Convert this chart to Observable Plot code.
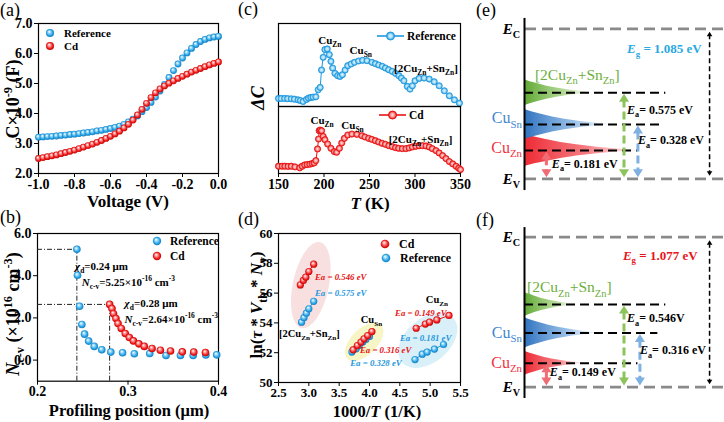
<!DOCTYPE html>
<html><head><meta charset="utf-8">
<script src="https://cdn.jsdelivr.net/npm/d3@7"></script>
<script src="https://cdn.jsdelivr.net/npm/@observablehq/plot@0.6"></script>
<style>
body{margin:0;background:#fff;}
#fig{position:relative;width:724px;height:422px;overflow:hidden;background:#fff;}
.plab{position:absolute;font-family:"Liberation Serif",serif;font-size:18px;line-height:18px;color:#000;}
</style></head>
<body>
<svg width="0" height="0" style="position:absolute">
<defs>
 <radialGradient id="sphBlue" cx="0.5" cy="0.5" r="0.55" fx="0.38" fy="0.32">
  <stop offset="0" stop-color="#ffffff"/><stop offset="0.3" stop-color="#9cd9f8"/><stop offset="0.7" stop-color="#22a0e4"/><stop offset="1" stop-color="#1372b3"/>
 </radialGradient>
 <radialGradient id="sphRed" cx="0.5" cy="0.5" r="0.55" fx="0.38" fy="0.32">
  <stop offset="0" stop-color="#ffffff"/><stop offset="0.3" stop-color="#ff9c9c"/><stop offset="0.7" stop-color="#f01818"/><stop offset="1" stop-color="#b00000"/>
 </radialGradient>
 <radialGradient id="ringBlue" cx="0.5" cy="0.5" r="0.5">
  <stop offset="0" stop-color="#e4f5fd"/><stop offset="0.5" stop-color="#a6dcf6"/><stop offset="1" stop-color="#1f98de"/>
 </radialGradient>
 <radialGradient id="ringRed" cx="0.5" cy="0.5" r="0.5">
  <stop offset="0" stop-color="#ffe2e2"/><stop offset="0.5" stop-color="#ff9a9a"/><stop offset="1" stop-color="#e61414"/>
 </radialGradient>
 <linearGradient id="gRed" x1="0" x2="1" y1="0" y2="0">
  <stop offset="0" stop-color="#ee2a34"/><stop offset="0.55" stop-color="#f3646b" stop-opacity="0.85"/><stop offset="1" stop-color="#fbd3d5" stop-opacity="0.5"/>
 </linearGradient>
 <linearGradient id="gBlue" x1="0" x2="1" y1="0" y2="0">
  <stop offset="0" stop-color="#2f72bf"/><stop offset="0.55" stop-color="#82b2e2" stop-opacity="0.85"/><stop offset="1" stop-color="#e6f0fa" stop-opacity="0.5"/>
 </linearGradient>
 <linearGradient id="gGreen" x1="0" x2="1" y1="0" y2="0">
  <stop offset="0" stop-color="#5fa833"/><stop offset="0.55" stop-color="#a3d17f" stop-opacity="0.85"/><stop offset="1" stop-color="#eef7e6" stop-opacity="0.5"/>
 </linearGradient>
</defs></svg>
<div id="fig"></div>
<script>
// ---------------- DATA ----------------
// (a) C-V
const aVoltage = [-1,-0.975,-0.95,-0.925,-0.9,-0.875,-0.85,-0.825,-0.8,-0.775,-0.75,-0.725,-0.7,-0.675,-0.65,-0.625,-0.6,-0.575,-0.55,-0.525,-0.5,-0.475,-0.45,-0.425,-0.4,-0.375,-0.35,-0.325,-0.3,-0.275,-0.25,-0.225,-0.2,-0.175,-0.15,-0.125,-0.1,-0.075,-0.05,-0.025,0];
const aRef = [3.21,3.22,3.23,3.24,3.25,3.27,3.28,3.30,3.31,3.33,3.35,3.37,3.39,3.42,3.44,3.47,3.50,3.54,3.58,3.64,3.72,3.81,3.92,4.06,4.20,4.37,4.55,4.75,4.97,5.20,5.43,5.65,5.85,6.02,6.17,6.30,6.40,6.47,6.52,6.55,6.57];
const aCd  = [2.50,2.53,2.56,2.59,2.62,2.66,2.70,2.74,2.78,2.83,2.88,2.93,2.98,3.04,3.10,3.17,3.24,3.32,3.41,3.52,3.64,3.78,3.95,4.14,4.34,4.53,4.69,4.82,4.92,5.01,5.09,5.17,5.24,5.31,5.38,5.44,5.50,5.56,5.62,5.67,5.72];
const aXTicks = [-1,-0.8,-0.6,-0.4,-0.2,0];
const aYTicks = [2,3,4,5,6,7];

// (b) N_c-v profile
const bRefX = [0.2435,0.2442,0.2465,0.249,0.252,0.2565,0.2627,0.271,0.281,0.294,0.307,0.324,0.342,0.358,0.372,0.386,0.398];
const bRefY = [5.25,4.02,2.55,1.69,1.23,0.90,0.65,0.49,0.38,0.35,0.30,0.31,0.22,0.22,0.22,0.24,0.25];
const bCdX  = [0.2797,0.2823,0.284,0.2867,0.289,0.2926,0.297,0.3015,0.306,0.312,0.318,0.3266,0.3358,0.347,0.36,0.3727,0.3856];
const bCdY  = [2.64,2.44,2.20,1.97,1.73,1.50,1.26,1.07,0.91,0.77,0.65,0.55,0.47,0.43,0.39,0.38,0.36];
const bXTicks = [0.2,0.3,0.4];
const bYTicks = [0,2,4,6];

// (c) DLTS (arbitrary units)
const cRefT = [150,153,156.7,160,164,167.5,171.4,174,177,180.7,183,185.5,188,191,193.6,195.8,197.3,199.1,201,203.6,205.8,207.6,209.5,212,215,217.6,220.2,223.2,226.1,229.8,233.5,238,242.4,247.2,252.7,256.5,260.1,264,267.5,271,274.9,278.5,282.3,285,287.8,291.5,294.5,297.1,300,304.5,310,315.6,321.1,326.6,332.2,337.7,343.3,348.8];
const cRefDC = [2.4,2.4,2.4,2.35,2.3,2.2,2.0,1.8,1.5,2.1,2.5,2.7,2.8,2.9,5.0,5.7,10.9,14.7,17.0,17.2,15.5,13.5,11.5,9.9,9.2,9.0,9.5,10.9,12.2,12.7,13.2,13.6,13.8,13.7,13.2,12.8,12.4,12.0,11.5,11.0,10.5,9.9,9.2,8.5,7.7,6.0,5.2,6.2,7.7,8.4,8.5,8.2,7.4,6.2,4.7,3.2,2.0,1.0];
const cCdT = [150,154,157,160.5,164,168,173.3,176,178.8,181.5,184.4,187,189.2,191,192.9,194,194.7,195.8,197.3,199.1,201,204,207.6,211.3,213.9,216.9,219.5,222.4,226.1,230.6,236.1,241.6,245,249,252.5,256.4,260,263.8,267.5,271.2,275,278.6,282,286,290,293.5,297,300.8,304.5,308.2,312,315.6,319,323,326.5,330.3,334,337.7,341.5,345.1,348,350];
const cCdDC = [2.2,2.2,2.2,2.15,2.2,2.0,1.7,2.2,2.6,2.7,2.8,3.0,3.2,3.9,7.4,10.4,12.9,13.1,12.9,11.2,10.2,8.9,7.6,6.6,6.4,7.6,9.2,10.6,11.6,11.9,11.8,11.4,11.0,10.6,10.3,9.9,9.5,9.1,8.8,8.4,8.1,7.8,7.6,7.5,7.5,7.7,8.0,8.2,8.35,8.4,8.3,8.0,7.5,6.9,6.2,5.4,4.5,3.6,2.9,2.2,1.6,1.2];
const cXTicks = [150,200,250,300,350];

// (d) Arrhenius
const dGroups = ["2CuZn+SnZn","2CuZn+SnZn","2CuZn+SnZn","2CuZn+SnZn","2CuZn+SnZn","CuSn","CuSn","CuSn","CuSn","CuSn","CuSn","CuZn","CuZn","CuZn","CuZn","CuZn"];
const dCdX  = [2.86,2.91,2.95,3.00,3.08, 3.73,3.80,3.86,3.91,3.97,4.04, 4.77,4.92,4.99,5.11,5.31];
const dCdY  = [56.55,56.85,57.07,57.45,57.94, 52.19,52.48,52.71,52.93,53.15,53.42, 53.64,53.92,54.05,54.20,54.50];
const dRefX = [2.88,2.92,2.96,3.00,3.08, 3.71,3.78,3.83,3.89,3.94,4.00, 4.75,4.87,4.95,5.07,5.22];
const dRefY = [54.05,54.35,54.65,54.95,55.45, 52.04,52.26,52.48,52.71,52.89,53.09, 51.54,51.90,52.04,52.24,52.55];
const dXTicks = [2.5,3.0,3.5,4.0,4.5,5.0,5.5];
const dYTicks = [50,52,54,56,58,60];
const dEaCd  = [0.546,0.316,0.149];
const dEaRef = [0.575,0.328,0.181];
const dClusterX = [3.04,3.92,4.97];
const dClusterY = [56.5,52.7,52.8];

// (e),(f) band diagrams: CuZn, CuSn, [2CuZn+SnZn]
const defectNames = ["Cu_{Zn}","Cu_{Sn}","[2Cu_{Zn}+Sn_{Zn}]"];
const eEa = [0.181,0.328,0.575]; const eEg = 1.085;
const fEa = [0.149,0.316,0.546]; const fEg = 1.077;
const eLevel = [0.205,0.393,0.623];   // drawn (schematic) level heights above E_V
const fLevel = [0.172,0.390,0.594];
const profOffset = [-1,-0.85,-0.7,-0.5,-0.35,-0.2,-0.1,0,0.1,0.2,0.35,0.5,0.7,0.85,1];
const profWidth  = [0,0.08,0.18,0.32,0.46,0.64,0.8,1,0.8,0.64,0.46,0.32,0.18,0.08,0];

// ---------------- HELPERS ----------------
const NS = "http://www.w3.org/2000/svg";
const FONT = "Liberation Serif";
const STYLE = "font-family:'Liberation Serif',serif;font-size:14px;font-weight:bold;color:#000;background:transparent;overflow:visible;";
const STYLE13 = STYLE.replace("font-size:14px", "font-size:13px");
function el(tag, attrs) { const e = document.createElementNS(NS, tag); for (const k in (attrs||{})) e.setAttribute(k, attrs[k]); return e; }
function parseRich(s) {
  const segs = []; let i = 0, buf = "";
  while (i < s.length) {
    const c = s[i];
    if ((c === "_" || c === "^" || c === "~") && s[i+1] === "{") {
      if (buf) { segs.push({t: buf, k: "n"}); buf = ""; }
      const j = s.indexOf("}", i + 2);
      segs.push({t: s.slice(i + 2, j), k: c});
      i = j + 1;
    } else { buf += c; i++; }
  }
  if (buf) segs.push({t: buf, k: "n"});
  return segs;
}
function addRich(parent, it, scales) {
  const fs = it.size || 12;
  const X = it.px ? it.x : scales.x(it.x);
  const Y = it.px ? it.y : scales.y(it.y);
  const t = el("text", {
    transform: `translate(${X},${Y})` + (it.rotate ? ` rotate(${it.rotate})` : ""),
    y: (0.35 * fs).toFixed(2), "font-family": it.family || FONT, "font-size": fs,
    "font-weight": it.weight || "bold", fill: it.fill || "#000", "text-anchor": it.anchor || "start"
  });
  if (it.italic) t.setAttribute("font-style", "italic");
  let shift = 0;
  for (const seg of parseRich(it.t)) {
    const sp = el("tspan");
    let target = 0;
    if (seg.k === "_") { target = 0.28 * fs; sp.setAttribute("font-size", (0.68 * fs).toFixed(2)); }
    else if (seg.k === "^") { target = -0.42 * fs; sp.setAttribute("font-size", (0.68 * fs).toFixed(2)); }
    if (seg.k === "~") sp.setAttribute("font-style", "italic");
    const dy = target - shift;
    if (dy) sp.setAttribute("dy", dy.toFixed(2));
    shift = target;
    sp.textContent = seg.t;
    t.appendChild(sp);
  }
  parent.appendChild(t);
}
function richText(items) {
  return (index, scales) => { const g = el("g"); for (const it of items) addRich(g, it, scales); return g; };
}
function dotLegend(items, r, gap, size) {
  return (index, scales) => {
    const g = el("g");
    for (const it of items) {
      g.appendChild(el("circle", {cx: it.x, cy: it.y, r, fill: it.fill}));
      addRich(g, {px: true, x: it.x + gap, y: it.y, t: it.label, size}, scales);
    }
    return g;
  };
}
function lineLegend(item) {
  return (index, scales) => {
    const g = el("g");
    g.appendChild(el("line", {x1: item.x, x2: item.x + 27, y1: item.y, y2: item.y, stroke: item.stroke, "stroke-width": 1.6}));
    g.appendChild(el("circle", {cx: item.x + 13.5, cy: item.y, r: 4, fill: item.fill, stroke: item.stroke, "stroke-width": 1}));
    addRich(g, {px: true, x: item.x + 30, y: item.y, t: item.label, size: 11.5}, scales);
    return g;
  };
}
const headUp = {draw(ctx, size) { const r = Math.sqrt(size / Math.PI); ctx.moveTo(0, 0); ctx.lineTo(r, 1.6 * r); ctx.lineTo(-r, 1.6 * r); ctx.closePath(); }};
const headDown = {draw(ctx, size) { const r = Math.sqrt(size / Math.PI); ctx.moveTo(0, 0); ctx.lineTo(r, -1.6 * r); ctx.lineTo(-r, -1.6 * r); ctx.closePath(); }};

const fig = document.getElementById("fig");
function place(node, left, top) { node.style.position = "absolute"; node.style.left = left + "px"; node.style.top = top + "px"; fig.appendChild(node); }
function panelLabel(txt, left, top) { const d = document.createElement("div"); d.className = "plab"; d.textContent = txt; d.style.left = left + "px"; d.style.top = top + "px"; fig.appendChild(d); }

// ---------------- (a) ----------------
const aRows = aVoltage.map((v, i) => ({v, ref: aRef[i], cd: aCd[i]}));
place(Plot.plot({
  width: 230, height: 210, marginLeft: 38, marginRight: 12, marginTop: 23, marginBottom: 37, style: STYLE,
  x: {domain: [-1, 0], ticks: aXTicks, tickFormat: d => d.toFixed(1), tickSize: 4, tickPadding: 2, label: null},
  y: {domain: [2, 7], ticks: aYTicks, tickSize: 4, tickPadding: 2, label: null},
  marks: [
    Plot.frame({stroke: "#000", strokeWidth: 1.2}),
    Plot.dot(aRows, {x: "v", y: "ref", r: 3.4, fill: "url(#sphBlue)"}),
    Plot.dot(aRows, {x: "v", y: "cd", r: 3.4, fill: "url(#sphRed)"}),
    dotLegend([{x: 50, y: 33, fill: "url(#sphBlue)", label: "Reference"}, {x: 50, y: 46, fill: "url(#sphRed)", label: "Cd"}], 4, 14, 11),
    richText([
      {px: true, x: 128, y: 201, t: "Voltage (V)", size: 17, anchor: "middle"},
      {px: true, x: 13, y: 99, t: "C×10^{-9} (F)", size: 18, anchor: "middle", rotate: -90}
    ])
  ]
}), 0, 0);

// ---------------- (b) ----------------
const bRef = bRefX.map((x, i) => ({x, y: bRefY[i]}));
const bCd = bCdX.map((x, i) => ({x, y: bCdY[i]}));
const bMarks = [bRef[0], bCd[0]];
place(Plot.plot({
  width: 230, height: 217, marginLeft: 37, marginRight: 12, marginTop: 28, marginBottom: 41.3, style: STYLE,
  x: {domain: [0.2, 0.4], ticks: bXTicks, tickFormat: d => d.toFixed(1), tickSize: 4, tickPadding: 1, label: null},
  y: {domain: [-1, 6], ticks: bYTicks, tickSize: 4, tickPadding: 2, label: null},
  marks: [
    Plot.frame({stroke: "#000", strokeWidth: 1.2}),
    Plot.ruleX(bMarks, {x: "x", y1: -1, y2: "y", stroke: "#222", strokeWidth: 1, strokeDasharray: "5,2,1,2"}),
    Plot.ruleY(bMarks, {y: "y", x1: 0.2, x2: "x", stroke: "#222", strokeWidth: 1, strokeDasharray: "5,2,1,2"}),
    Plot.dot(bRef, {x: "x", y: "y", r: 3.8, fill: "url(#sphBlue)"}),
    Plot.dot(bCd, {x: "x", y: "y", r: 3.8, fill: "url(#sphRed)"}),
    dotLegend([{x: 157, y: 36, fill: "url(#sphBlue)", label: "Reference"}, {x: 157, y: 51, fill: "url(#sphRed)", label: "Cd"}], 4.2, 13, 11.5),
    richText([
      {x: 0.242, y: 4.45, t: "~{χ}_{d}=0.24 μm", size: 11},
      {x: 0.2494, y: 3.68, t: "~{N}_{c-v}=5.25×10^{-16} cm^{-3}", size: 11},
      {x: 0.2968, y: 2.68, t: "~{χ}_{d}=0.28 μm", size: 11},
      {x: 0.2968, y: 1.94, t: "~{N}_{c-v}=2.64×10^{-16} cm^{-3}", size: 11},
      {px: true, x: 129, y: 205, t: "Profiling position (μm)", size: 16.5, anchor: "middle"},
      {px: true, x: 13, y: 109, t: "~{N}_{c-v} (×10^{16} cm^{-3})", size: 18, anchor: "middle", rotate: -90}
    ])
  ]
}), 0, 205);

// ---------------- (c) ----------------
const cRef = cRefT.map((T, i) => ({T, v: cRefDC[i]}));
const cCd = cCdT.map((T, i) => ({T, v: cCdDC[i]}));
place(Plot.plot({
  width: 230, height: 106, marginLeft: 33, marginRight: 15, marginTop: 23, marginBottom: 0, style: STYLE,
  x: {domain: [150, 350], axis: null}, y: {domain: [0, 24.8], axis: null},
  marks: [
    Plot.frame({stroke: "#000", strokeWidth: 1.2}),
    Plot.line(cRef, {x: "T", y: "v", stroke: "#1f98de", strokeWidth: 1}),
    Plot.dot(cRef, {x: "T", y: "v", r: 3.1, fill: "url(#ringBlue)", stroke: "#1f98de", strokeWidth: 0.8}),
    lineLegend({x: 132, y: 36, stroke: "#1f98de", fill: "url(#ringBlue)", label: "Reference"}),
    richText([
      {x: 207, y: 19.7, t: "Cu_{Zn}", size: 11, anchor: "middle"},
      {x: 241, y: 16.7, t: "Cu_{Sn}", size: 11, anchor: "middle"},
      {x: 312.6, y: 11.4, t: "[2Cu_{Zn}+Sn_{Zn}]", size: 11, anchor: "middle"},
      {px: true, x: 13, y: 98, t: "~{ΔC}", size: 18, anchor: "middle", rotate: -90}
    ])
  ]
}), 245, 0);
place(Plot.plot({
  width: 230, height: 104, marginLeft: 33, marginRight: 15, marginTop: 0, marginBottom: 37, style: STYLE,
  x: {domain: [150, 350], ticks: cXTicks, tickSize: 4, tickPadding: 2, label: null}, y: {domain: [0, 20.2], axis: null},
  marks: [
    Plot.frame({stroke: "#000", strokeWidth: 1.2}),
    Plot.line(cCd, {x: "T", y: "v", stroke: "#e61414", strokeWidth: 1}),
    Plot.dot(cCd, {x: "T", y: "v", r: 3.1, fill: "url(#ringRed)", stroke: "#e61414", strokeWidth: 0.8}),
    lineLegend({x: 134, y: 9, stroke: "#e61414", fill: "url(#ringRed)", label: "Cd"}),
    richText([
      {x: 198.4, y: 16.0, t: "Cu_{Zn}", size: 11, anchor: "middle"},
      {x: 231.9, y: 14.5, t: "Cu_{Sn}", size: 11, anchor: "middle"},
      {x: 306.6, y: 10.3, t: "[2Cu_{Zn}+Sn_{Zn}]", size: 11, anchor: "middle"},
      {px: true, x: 125, y: 97, t: "~{T} (K)", size: 17, anchor: "middle"}
    ])
  ]
}), 245, 106);

// ---------------- (d) ----------------
const dCd = dCdX.map((x, i) => ({x, y: dCdY[i], g: dGroups[i]}));
const dRef = dRefX.map((x, i) => ({x, y: dRefY[i], g: dGroups[i]}));
const ellStyle = [
  {rx: 18, ry: 44, rot: 12, fill: "#f6cfcf"},
  {rx: 24, ry: 13, rot: -45, fill: "#f3f0a8"},
  {rx: 34, ry: 22, rot: -40, fill: "#c6e8f6"}
];
function ellipses() {
  return (index, scales) => {
    const g = el("g");
    dClusterX.forEach((cx, i) => {
      const s = ellStyle[i], X = scales.x(cx), Y = scales.y(dClusterY[i]);
      g.appendChild(el("ellipse", {cx: 0, cy: 0, rx: s.rx, ry: s.ry, fill: s.fill, "fill-opacity": 0.65, transform: `translate(${X},${Y}) rotate(${s.rot})`}));
    });
    return g;
  };
}
place(Plot.plot({
  width: 230, height: 217, marginLeft: 33, marginRight: 15, marginTop: 28, marginBottom: 40, style: STYLE13,
  x: {domain: [2.5, 5.5], ticks: dXTicks, tickFormat: d => d.toFixed(1), tickSize: 4, tickPadding: 1, label: null},
  y: {domain: [50, 60], ticks: dYTicks, tickSize: 4, tickPadding: 2, label: null},
  marks: [
    ellipses(),
    Plot.frame({stroke: "#000", strokeWidth: 1.2}),
    Plot.line(dRef, {x: "x", y: "y", z: "g", stroke: "#1f98de", strokeWidth: 1}),
    Plot.dot(dRef, {x: "x", y: "y", r: 3.6, fill: "url(#sphBlue)"}),
    Plot.line(dCd, {x: "x", y: "y", z: "g", stroke: "#e61414", strokeWidth: 1}),
    Plot.dot(dCd, {x: "x", y: "y", r: 3.6, fill: "url(#sphRed)"}),
    dotLegend([{x: 140, y: 39, fill: "url(#sphRed)", label: "Cd"}, {x: 141, y: 53, fill: "url(#sphBlue)", label: "Reference"}], 4.3, 14, 12),
    richText([
      {x: 3.11, y: 57.05, t: `~{Ea} = ${dEaCd[0].toFixed(3)} eV`, size: 8.8, fill: "#e61414", italic: true},
      {x: 3.11, y: 55.97, t: `~{Ea} = ${dEaRef[0].toFixed(3)} eV`, size: 8.8, fill: "#1f98de", italic: true},
      {x: 2.516, y: 53.29, t: "[2Cu_{Zn}+Sn_{Zn}]", size: 10.5},
      {x: 4.04, y: 54.2, t: "Cu_{Sn}", size: 10.5, anchor: "middle"},
      {x: 3.85, y: 52.15, t: `~{Ea} = ${dEaCd[1].toFixed(3)} eV`, size: 8.8, fill: "#e61414", italic: true},
      {x: 3.69, y: 51.3, t: `~{Ea} = ${dEaRef[1].toFixed(3)} eV`, size: 8.8, fill: "#1f98de", italic: true},
      {x: 5.12, y: 55.55, t: "Cu_{Zn}", size: 10.5, anchor: "middle"},
      {x: 4.43, y: 54.62, t: `~{Ea} = ${dEaCd[2].toFixed(3)} eV`, size: 8.8, fill: "#e61414", italic: true},
      {x: 4.51, y: 52.95, t: `~{Ea} = ${dEaRef[2].toFixed(3)} eV`, size: 8.8, fill: "#1f98de", italic: true},
      {px: true, x: 132, y: 206, t: "1000/~{T} (1/K)", size: 16.5, anchor: "middle"},
      {px: true, x: 11, y: 100, t: "ln(~{τ} * ~{V}_{th} * ~{N}_{v})", size: 17, anchor: "middle", rotate: -90}
    ])
  ]
}), 245, 205);

// ---------------- (e), (f) ----------------
const shapeFill = ["url(#gRed)", "url(#gBlue)", "url(#gGreen)"];
const labelColor = ["#f0343e", "#3e86cf", "#6cae3c"];
const arrowColor = ["#f06b74", "#7eb0e2", "#8cc35a"];
function bandPlot(cfg) {
  const {Ea, Eg, level, spread, tip, lineEnd, arrowX, width, height, mt, mb, egColor, egX, eaPos, unit, namePos, axisY} = cfg;
  const shapes = [0, 1, 2].map(i => Plot.areaX(profOffset.map((o, k) => ({y: level[i] + o * spread[i], w: profWidth[k] * tip[i]})),
    {x1: 0, x2: "w", y: "y", fill: shapeFill[i]}));
  const levelRows = level.map((y, i) => ({y, x2: lineEnd[i]}));
  const arrows = level.map((y, i) => ({x: arrowX[i], top: y, c: arrowColor[i]}));
  const egArrow = [{x: egX, top: Eg}];
  const texts = [
    {x: -0.02, y: Eg, t: "~{E}_{C}", size: 15, anchor: "end"},
    {x: -0.02, y: 0, t: "~{E}_{V}", size: 15, anchor: "end"},
    {x: eaPos.eg[0], y: eaPos.eg[1], t: `~{E}_{g} = ${Eg.toFixed(3)} eV`, size: 13, fill: egColor},
    {x: -0.01, y: namePos[0], t: defectNames[0], size: 16, weight: "normal", fill: labelColor[0], anchor: "end"},
    {x: -0.01, y: namePos[1], t: defectNames[1], size: 16, weight: "normal", fill: labelColor[1], anchor: "end"},
    {x: namePos[3], y: namePos[2], t: defectNames[2], size: 15.5, weight: "normal", fill: labelColor[2]}
  ];
  for (let i = 0; i < 3; i++) texts.push({x: eaPos.ea[i][0], y: eaPos.ea[i][1], t: `~{E}_{a}= ${Ea[i].toFixed(3)}${unit[i]}`, size: 12});
  return Plot.plot({
    width, height, marginLeft: 34, marginRight: 1, marginTop: mt, marginBottom: mb, style: STYLE,
    x: {domain: [0, 1], axis: null}, y: {domain: [0, Eg], axis: null},
    marks: [
      ...shapes,
      Plot.ruleY(levelRows, {y: "y", x1: 0, x2: "x2", stroke: "#000", strokeWidth: 2, strokeDasharray: "9,5"}),
      Plot.ruleY([0, Eg], {x1: 0.005, x2: 1, stroke: "#8a8a8a", strokeWidth: 2.8, strokeDasharray: "11,6"}),
      Plot.link(arrows, {x1: "x", x2: "x", y1: d => d.top - 0.05, y2: 0.05, stroke: "c", strokeWidth: 3, strokeDasharray: "8,4"}),
      Plot.dot(arrows, {x: "x", y: d => d.top - 0.008, symbol: headUp, r: 5, fill: "c", stroke: "none"}),
      Plot.dot(arrows, {x: "x", y: 0.012, symbol: headDown, r: 5, fill: "c", stroke: "none"}),
      Plot.link(egArrow, {x1: "x", x2: "x", y1: d => d.top - 0.04, y2: 0.04, stroke: "#000", strokeWidth: 1.5, strokeDasharray: "5,3"}),
      Plot.dot(egArrow, {x: "x", y: d => d.top - 0.022, symbol: headUp, r: 2.8, fill: "#000", stroke: "none"}),
      Plot.dot(egArrow, {x: "x", y: 0.022, symbol: headDown, r: 2.8, fill: "#000", stroke: "none"}),
      Plot.ruleX([0], {y1: axisY[0], y2: axisY[1], stroke: "#000", strokeWidth: 2}),
      richText(texts)
    ]
  });
}
place(bandPlot({
  Ea: eEa, Eg: eEg, level: eLevel, spread: [0.116, 0.109, 0.094], tip: [0.57, 0.44, 0.35],
  lineEnd: [0.57, 0.68, 0.71], arrowX: [0.11, 0.57, 0.50], width: 234, height: 205, mt: 28.3, mb: 26.7,
  egColor: "#29a9e1", egX: 0.93, unit: [" eV", " eV", " eV"],
  eaPos: {eg: [0.518, 0.94], ea: [[0.14, 0.104], [0.573, 0.277], [0.518, 0.495]]},
  namePos: [0.226, 0.437, 0.75, 0.055], axisY: [-0.085, 1.16]
}), 490, 0);
place(bandPlot({
  Ea: fEa, Eg: fEg, level: fLevel, spread: [0.086, 0.108, 0.086], tip: [0.30, 0.38, 0.27],
  lineEnd: [0.57, 0.67, 0.71], arrowX: [0.11, 0.58, 0.50], width: 234, height: 217, mt: 31.7, mb: 35.3,
  egColor: "#e8141c", egX: 0.93, unit: [" eV", " eV", "V"],
  eaPos: {eg: [0.497, 0.945], ea: [[0.13, 0.105], [0.583, 0.263], [0.518, 0.493]]},
  namePos: [0.177, 0.393, 0.716, 0.015], axisY: [-0.081, 1.146]
}), 490, 205);

// panel letters
panelLabel("(a)", 0, 1); panelLabel("(b)", 0, 208);
panelLabel("(c)", 238, 0); panelLabel("(d)", 238, 210);
panelLabel("(e)", 476, 1); panelLabel("(f)", 476, 211);
</script>
</body></html>
